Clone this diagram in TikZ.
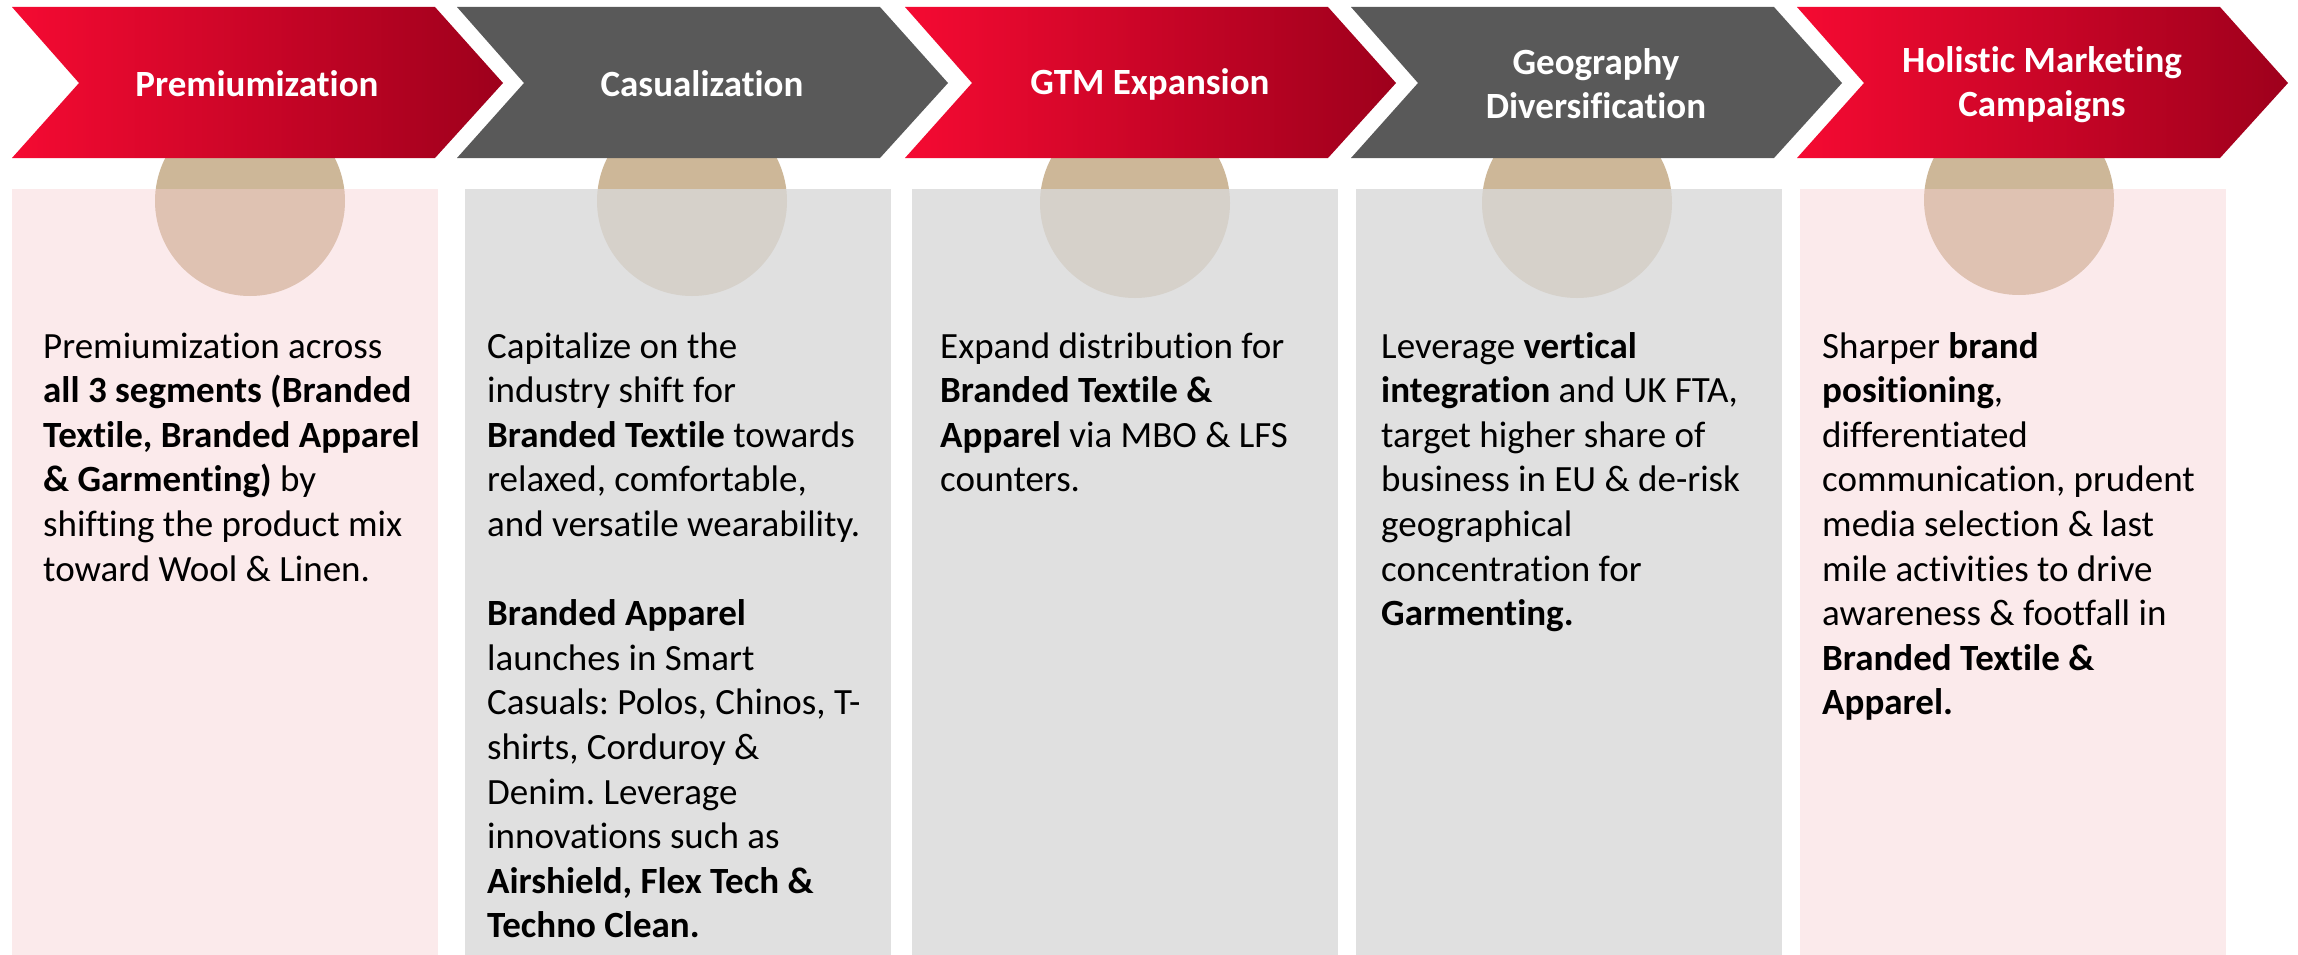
\documentclass[tikz,border=0pt]{standalone}
\usepackage{fontspec}
\setmainfont{Carlito}[Ligatures=NoCommon]
\frenchspacing
\definecolor{redL}{RGB}{245,10,50}
\definecolor{redR}{RGB}{158,0,28}
\definecolor{chevgray}{RGB}{89,89,89}
\definecolor{pinkpanel}{RGB}{251,234,235}
\definecolor{graypanel}{RGB}{224,224,224}
\definecolor{tanc}{RGB}{205,183,152}
\definecolor{tanpink}{RGB}{223,194,178}
\definecolor{tangray}{RGB}{214,209,202}
\newcommand{\chevpath}[1]{(#1,7) -- ({#1+423},7) -- ({#1+491},83) -- ({#1+423},158) -- (#1,158) -- ({#1+67},83) -- cycle}
\begin{document}
\begin{tikzpicture}[x=1pt,y=-1pt,
  redchev/.style={left color=redL,right color=redR,draw=none},
  graychev/.style={fill=chevgray,draw=none},
  chevtitle/.style={text=white,font=\fontsize{37pt}{44pt}\selectfont\bfseries,align=center,inner sep=0pt},
  panelbox/.style={anchor=north west,inner sep=0pt,minimum width=426pt,minimum height=767pt,draw=none},
  dot/.style={circle,fill=tanc,minimum size=190pt,inner sep=0pt,draw=none},
  bodytext/.style={anchor=base west,inner sep=0pt,font=\fontsize{37pt}{44.6pt}\selectfont,text=black}]
\useasboundingbox (0,0) rectangle (2298,955);
\fill[white] (0,0) rectangle (2298,955);
% circles
\node[dot] (c1) at (250,201) {};
\node[dot] (c2) at (692,201) {};
\node[dot] (c3) at (1135,203) {};
\node[dot] (c4) at (1577,203) {};
\node[dot] (c5) at (2019,200) {};
% chevrons
\path[redchev] \chevpath{12};
\path[graychev] \chevpath{457};
\path[redchev] \chevpath{905};
\path[graychev] \chevpath{1351};
\path[redchev] \chevpath{1797};
\node[chevtitle] (t1) at (257,84) {Premiumization};
\node[chevtitle] (t2) at (702,84) {Casualization};
\node[chevtitle] (t3) at (1150,84) {GTM Expansion};
\node[chevtitle] (t4) at (1596,84) {Geography\\Diversification};
\node[chevtitle] (t5) at (2042,85) {Holistic Marketing\\Campaigns};
% panels
\node[panelbox,fill=pinkpanel] (p1) at (12,189) {};
\node[panelbox,fill=graypanel] (p2) at (465,189) {};
\node[panelbox,fill=graypanel] (p3) at (912,189) {};
\node[panelbox,fill=graypanel] (p4) at (1356,189) {};
\node[panelbox,fill=pinkpanel] (p5) at (1800,189) {};
% circle parts seen through the panels
\begin{scope}\clip (p1.north west) rectangle (p1.south east);\fill[tanpink] (c1.center) circle[radius=95];\end{scope}
\begin{scope}\clip (p2.north west) rectangle (p2.south east);\fill[tangray] (c2.center) circle[radius=95];\end{scope}
\begin{scope}\clip (p3.north west) rectangle (p3.south east);\fill[tangray] (c3.center) circle[radius=95];\end{scope}
\begin{scope}\clip (p4.north west) rectangle (p4.south east);\fill[tangray] (c4.center) circle[radius=95];\end{scope}
\begin{scope}\clip (p5.north west) rectangle (p5.south east);\fill[tanpink] (c5.center) circle[radius=95];\end{scope}
% texts
\node[bodytext] (b1) at (43,358) {\parbox[t]{440pt}{Premiumization across\\
\textbf{all 3 segments (Branded}\\
\textbf{Textile, Branded Apparel}\\
\textbf{\& Garmenting)} by\\
shifting the product mix\\
toward Wool \& Linen.}};
\node[bodytext] (b2) at (487,358) {\parbox[t]{440pt}{Capitalize on the\\
industry shift for\\
\textbf{Branded Textile} towards\\
relaxed, comfortable,\\
and versatile wearability.\\
\mbox{}\\
\textbf{Branded Apparel}\\
launches in Smart\\
Casuals: Polos, Chinos, T-\\
shirts, Corduroy \&\\
Denim. Leverage\\
innovations such as\\
\textbf{Airshield, Flex Tech \&}\\
\textbf{Techno Clean.}}};
\node[bodytext] (b3) at (940,358) {\parbox[t]{440pt}{Expand distribution for\\
\textbf{Branded Textile \&}\\
\textbf{Apparel} via MBO \& LFS\\
counters.}};
\node[bodytext] (b4) at (1381,358) {\parbox[t]{440pt}{Leverage \textbf{vertical}\\
\textbf{integration} and UK FTA,\\
target higher share of\\
business in EU \& de-risk\\
geographical\\
concentration for\\
\textbf{Garmenting.}}};
\node[bodytext] (b5) at (1822,358) {\parbox[t]{440pt}{Sharper \textbf{brand}\\
\textbf{positioning},\\
differentiated\\
communication, prudent\\
media selection \& last\\
mile activities to drive\\
awareness \& footfall in\\
\textbf{Branded Textile \&}\\
\textbf{Apparel.}}};
\end{tikzpicture}
\end{document}
